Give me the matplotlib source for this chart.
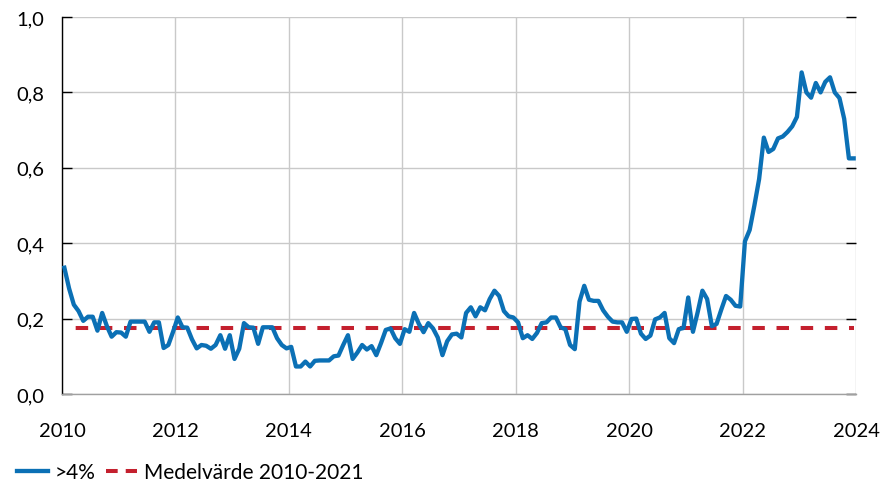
import numpy as np
import pandas as pd
import matplotlib
matplotlib.use("Agg")
import matplotlib.pyplot as plt
from matplotlib.lines import Line2D
from matplotlib.ticker import FuncFormatter

plt.rcParams['font.family'] = ['Lato', 'DejaVu Sans']

# Monthly share above 4%, Jan 2010 - Dec 2023
share_above_4 = [
    0.335, 0.280, 0.237, 0.220, 0.194, 0.205, 0.205, 0.168, 0.215, 0.180, 0.152, 0.164,  # 2010
    0.163, 0.152, 0.192, 0.192, 0.192, 0.192, 0.165, 0.190, 0.190, 0.122, 0.130, 0.165,  # 2011
    0.203, 0.177, 0.176, 0.145, 0.121, 0.130, 0.128, 0.120, 0.130, 0.156, 0.120, 0.156,  # 2012
    0.093, 0.120, 0.188, 0.177, 0.176, 0.133, 0.177, 0.177, 0.177, 0.148, 0.130, 0.121,  # 2013
    0.125, 0.073, 0.073, 0.086, 0.073, 0.088, 0.089, 0.089, 0.089, 0.100, 0.102, 0.130,  # 2014
    0.156, 0.093, 0.110, 0.130, 0.118, 0.127, 0.103, 0.135, 0.170, 0.174, 0.148, 0.133,  # 2015
    0.172, 0.165, 0.215, 0.186, 0.164, 0.188, 0.174, 0.150, 0.103, 0.140, 0.158, 0.160,  # 2016
    0.150, 0.215, 0.230, 0.206, 0.230, 0.222, 0.252, 0.274, 0.260, 0.220, 0.206, 0.203,  # 2017
    0.190, 0.148, 0.156, 0.146, 0.162, 0.188, 0.190, 0.203, 0.203, 0.177, 0.172, 0.130,  # 2018
    0.119, 0.245, 0.287, 0.250, 0.247, 0.247, 0.222, 0.205, 0.192, 0.190, 0.190, 0.165,  # 2019
    0.199, 0.200, 0.160, 0.146, 0.155, 0.198, 0.203, 0.215, 0.148, 0.135, 0.172, 0.175,  # 2020
    0.256, 0.165, 0.217, 0.274, 0.252, 0.180, 0.186, 0.224, 0.260, 0.250, 0.234, 0.232,  # 2021
    0.405, 0.435, 0.500, 0.570, 0.680, 0.642, 0.650, 0.678, 0.683, 0.695, 0.710, 0.735,  # 2022
    0.853, 0.800, 0.786, 0.825, 0.800, 0.828, 0.840, 0.800, 0.785, 0.730, 0.625, 0.625,  # 2023
]
mean_2010_2021 = 0.174

series_label = ">4%"
mean_label = "Medelvärde 2010-2021"
x_ticks = [2010, 2012, 2014, 2016, 2018, 2020, 2022, 2024]
y_ticks = [0.0, 0.2, 0.4, 0.6, 0.8, 1.0]

dates = pd.date_range("2010-01-01", periods=len(share_above_4), freq="MS")
t = dates.year + (dates.month - 1 + 0.5) / 12.0

blue = "#0B70B5"
red = "#C4202E"
grid_c = "#C9C9C9"

fig = plt.figure(figsize=(8.82, 4.85), dpi=100)
ax = fig.add_axes([62 / 882, 1 - 395 / 485, (856 - 62) / 882, (395 - 18) / 485])

ax.plot(t, share_above_4, color=blue, lw=3.1, label=series_label,
        solid_joinstyle="round", zorder=3)
ax.plot(t, [mean_2010_2021] * len(t), color=red, lw=2.9,
        linestyle=(3.1, (3.1, 2.9)), label=mean_label, zorder=2)

ax.set_xlim(2010, 2024)
ax.set_ylim(0, 1.0)
ax.set_xticks(x_ticks)
ax.set_yticks(y_ticks)
ax.yaxis.set_major_formatter(FuncFormatter(lambda v, p: f"{v:.1f}".replace(".", ",")))

ax.grid(True, color=grid_c, lw=1.0, zorder=0)
ax.set_axisbelow(True)

for s in ["top", "right"]:
    ax.spines[s].set_visible(False)
ax.spines["left"].set_color("black")
ax.spines["left"].set_linewidth(1.0)
ax.spines["bottom"].set_color("#A0A0A0")
ax.spines["bottom"].set_linewidth(1.0)

ax.tick_params(axis="y", direction="in", length=7, width=1.0, color="black",
               left=True, right=True, labelsize=14.5, pad=13)
ax.tick_params(axis="x", length=0, labelsize=14.5, pad=20)

legend_handles = [
    Line2D([], [], color=blue, lw=3.1),
    Line2D([], [], color=red, lw=2.9, linestyle=(0, (2.9, 2.0))),
]
fig.legend(legend_handles, [series_label, mean_label], loc="lower left",
           bbox_to_anchor=(0.003, -0.026), ncol=2, frameon=False, fontsize=15,
           handlelength=1.5, handletextpad=0.3, columnspacing=0.5,
           borderaxespad=0.3)

fig.savefig("out.png", dpi=100)
